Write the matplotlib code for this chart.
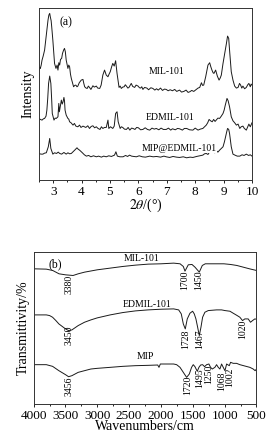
import numpy as np
import matplotlib
matplotlib.use("Agg")
import matplotlib.pyplot as plt
from matplotlib.ticker import MultipleLocator

plt.rcParams['font.family'] = 'Liberation Serif'
plt.rcParams['mathtext.fontset'] = 'stix'

# ---------------- (a) XRD data ----------------
mil_2t = [2.50, 2.53, 2.55, 2.58, 2.61, 2.65, 2.70, 2.74, 2.78, 2.82, 2.85, 2.88, 2.90, 2.93,
          2.95, 2.99, 3.05, 3.10, 3.14, 3.17, 3.20, 3.23, 3.26, 3.30, 3.33, 3.37, 3.40, 3.43,
          3.46, 3.52, 3.55, 3.58, 3.61, 3.64, 3.72, 3.76, 3.80, 3.84, 3.87, 3.92, 3.99, 4.05,
          4.08, 4.11, 4.16, 4.20, 4.24, 4.28, 4.33, 4.40, 4.45, 4.52, 4.57, 4.64, 4.69, 4.75,
          4.81, 4.87, 4.93, 4.97, 5.01, 5.06, 5.10, 5.15, 5.20, 5.25, 5.32, 5.36, 5.40, 5.45,
          5.50, 5.54, 5.58, 5.63, 5.67, 5.75, 5.80, 5.87, 5.92, 5.99, 6.04, 6.08, 6.12, 6.16,
          6.22, 6.30, 6.36, 6.44, 6.51, 6.58, 6.64, 6.70, 6.78, 6.85, 6.92, 6.98, 7.05, 7.12,
          7.20, 7.28, 7.35, 7.45, 7.52, 7.60, 7.68, 7.75, 7.81, 7.88, 7.95, 8.04, 8.10, 8.16,
          8.22, 8.26, 8.30, 8.37, 8.45, 8.51, 8.55, 8.59, 8.63, 8.66, 8.72, 8.78, 8.84, 8.88,
          8.92, 8.98, 9.04, 9.10, 9.14, 9.18, 9.21, 9.27, 9.33, 9.39, 9.45, 9.51, 9.56, 9.60,
          9.64, 9.68, 9.74, 9.80, 9.85, 9.89, 9.94, 9.97, 10.0]
mil_int = [330, 338, 335, 345, 360, 372, 390, 420, 450, 480, 495, 500, 490, 478,
           460, 420, 350, 335, 345, 330, 352, 345, 362, 365, 380, 390, 395, 385,
           360, 335, 345, 340, 318, 305, 280, 284, 285, 280, 282, 292, 300, 302,
           290, 280, 276, 275, 282, 278, 272, 283, 279, 282, 276, 275, 285, 315,
           330, 315, 310, 318, 325, 340, 350, 342, 358, 320, 278, 282, 275, 279,
           280, 286, 282, 276, 278, 290, 281, 278, 285, 282, 277, 276, 280, 272,
           278, 276, 271, 277, 275, 270, 274, 270, 276, 269, 273, 272, 268, 271,
           268, 272, 266, 270, 264, 266, 270, 263, 265, 269, 266, 272, 276, 278,
           292, 284, 285, 310, 345, 352, 340, 330, 322, 320, 330, 312, 300, 306,
           315, 350, 380, 410, 432, 425, 390, 325, 300, 282, 276, 278, 290, 285,
           276, 282, 274, 278, 286, 290, 280, 288, 285]

ed_2t = [2.50, 2.55, 2.61, 2.66, 2.70, 2.75, 2.78, 2.81, 2.84, 2.88, 2.92, 2.95, 2.97, 3.03,
         3.07, 3.11, 3.17, 3.20, 3.22, 3.25, 3.29, 3.32, 3.35, 3.38, 3.40, 3.42, 3.46, 3.49,
         3.52, 3.55, 3.58, 3.63, 3.70, 3.75, 3.80, 3.87, 3.93, 3.98, 4.05, 4.10, 4.15, 4.22,
         4.28, 4.34, 4.40, 4.46, 4.52, 4.58, 4.65, 4.70, 4.75, 4.81, 4.87, 4.93, 4.96, 5.02,
         5.10, 5.15, 5.20, 5.25, 5.29, 5.36, 5.40, 5.45, 5.51, 5.58, 5.64, 5.70, 5.76, 5.81,
         5.88, 5.94, 6.00, 6.08, 6.16, 6.24, 6.32, 6.40, 6.48, 6.56, 6.63, 6.72, 6.80, 6.88,
         6.98, 7.06, 7.14, 7.20, 7.30, 7.38, 7.45, 7.55, 7.62, 7.70, 7.80, 7.92, 8.00, 8.10,
         8.18, 8.27, 8.33, 8.39, 8.44, 8.49, 8.54, 8.60, 8.65, 8.70, 8.74, 8.80, 8.86, 8.92,
         8.98, 9.02, 9.06, 9.12, 9.16, 9.21, 9.27, 9.33, 9.39, 9.45, 9.51, 9.57, 9.62, 9.68,
         9.73, 9.80, 9.85, 9.89, 9.94, 10.0]
ed_int = [185, 182, 180, 184, 185, 192, 210, 245, 290, 312, 290, 240, 200, 180,
          186, 185, 190, 230, 205, 220, 240, 228, 235, 248, 238, 210, 195, 190,
          185, 183, 175, 172, 165, 170, 162, 160, 165, 158, 162, 160, 158, 163,
          155, 161, 163, 157, 160, 155, 152, 160, 155, 158, 158, 180, 155, 160,
          155, 162, 200, 205, 175, 155, 160, 158, 153, 152, 158, 150, 156, 155,
          152, 158, 157, 151, 152, 157, 152, 150, 156, 153, 155, 151, 156, 152,
          152, 156, 150, 154, 151, 155, 154, 150, 155, 155, 151, 150, 156, 150,
          153, 155, 160, 165, 172, 182, 178, 175, 182, 176, 180, 186, 185, 192,
          200, 210, 225, 245, 238, 220, 190, 178, 172, 165, 168, 155, 160, 162,
          155, 150, 160, 168, 160, 172]

mip_2t = [2.50, 2.57, 2.64, 2.70, 2.76, 2.83, 2.88, 2.92, 2.99, 3.05, 3.12, 3.18, 3.23, 3.30,
          3.38, 3.46, 3.52, 3.58, 3.64, 3.70, 3.76, 3.84, 3.88, 3.93, 4.03, 4.10, 4.17, 4.25,
          4.33, 4.42, 4.52, 4.60, 4.70, 4.78, 4.87, 4.96, 5.05, 5.16, 5.21, 5.26, 5.35, 5.46,
          5.55, 5.62, 5.69, 5.76, 5.84, 5.93, 6.03, 6.14, 6.25, 6.40, 6.52, 6.64, 6.78, 6.90,
          6.98, 7.10, 7.22, 7.34, 7.45, 7.58, 7.70, 7.82, 7.92, 8.05, 8.16, 8.27, 8.33, 8.39,
          8.45, 8.51, 8.58, 8.64, 8.69, 8.75, 8.80, 8.86, 8.92, 8.98, 9.03, 9.07, 9.11, 9.14,
          9.18, 9.21, 9.27, 9.33, 9.40, 9.48, 9.57, 9.65, 9.72, 9.80, 9.88, 9.94, 10.0]
mip_int = [80, 78, 78, 81, 82, 100, 125, 95, 78, 82, 80, 84, 80, 78,
           83, 78, 82, 79, 80, 85, 90, 97, 93, 90, 82, 76, 72, 74,
           70, 73, 70, 72, 69, 72, 70, 73, 71, 75, 85, 72, 70, 70,
           74, 71, 75, 72, 71, 70, 73, 70, 69, 72, 70, 71, 69, 72,
           70, 68, 71, 69, 68, 70, 67, 69, 68, 71, 73, 75, 79, 80,
           77, 85, 83, 86, 82, 88, 84, 90, 95, 100, 115, 130, 145, 155,
           152, 140, 100, 78, 75, 72, 72, 76, 74, 78, 74, 76, 72]

# ---------------- (b) FTIR data ----------------
mil_wn = [4000, 3800, 3700, 3600, 3500, 3380, 3300, 3200, 3000, 2800, 2600, 2400, 2200, 2000,
          1800, 1700, 1649, 1623, 1571, 1513, 1466, 1398, 1351, 1304, 1205, 1106, 1012, 907,
          808, 709, 610, 500]
mil_tr = [405, 404, 400, 390, 387, 385, 390, 395, 402, 407, 412, 416, 419, 420,
          422, 420, 412, 398, 417, 418, 410, 395, 415, 420, 420, 420, 420, 418,
          415, 410, 405, 400]

ed_wn = [4000, 3800, 3749, 3702, 3650, 3603, 3498, 3451, 3399, 3300, 3201, 3101, 3002, 2798,
         2600, 2401, 2203, 1999, 1801, 1722, 1681, 1649, 1618, 1587, 1545, 1503, 1477, 1451,
         1424, 1398, 1372, 1346, 1310, 1257, 1127, 1048, 995, 917, 865, 803, 761, 719,
         683, 630, 594, 562, 526, 500]
ed_tr = [267, 267, 265, 260, 250, 240, 225, 220, 222, 235, 245, 252, 258, 267,
         274, 279, 282, 284, 285, 282, 270, 240, 225, 255, 272, 278, 270, 255,
         230, 205, 230, 260, 275, 280, 282, 282, 280, 278, 272, 265, 260, 250,
         255, 255, 245, 250, 255, 254]

mip_wn = [4000, 3800, 3702, 3603, 3498, 3451, 3399, 3300, 3201, 3101, 3002, 2798, 2600, 2401,
          2203, 2051, 2031, 2010, 1900, 1801, 1754, 1701, 1649, 1597, 1555, 1519, 1493, 1466,
          1430, 1404, 1377, 1346, 1315, 1283, 1247, 1221, 1194, 1153, 1127, 1100, 1074, 1048,
          1022, 995, 969, 927, 907, 865, 813, 761, 683, 604, 552, 521, 500]
mip_tr = [118, 118, 113, 100, 88, 82, 85, 95, 100, 105, 107, 110, 113, 115,
          116, 117, 110, 120, 120, 120, 118, 110, 95, 80, 90, 110, 118, 112,
          98, 110, 117, 118, 112, 118, 120, 110, 105, 110, 118, 110, 105, 120,
          110, 100, 120, 115, 125, 122, 122, 118, 114, 110, 105, 100, 105]

# peak labels: (text, wavenumber, y)
peak_labels = [("3380", 3441, 358), ("1700", 1633, 372), ("1450", 1404, 372),
               ("3450", 3441, 205), ("1728", 1618, 193), ("1467", 1388, 193), ("1020", 709, 225),
               ("3456", 3441, 53), ("1720", 1587, 55), ("1495", 1398, 78), ("1250", 1257, 90),
               ("1068", 1048, 67), ("1002", 928, 80)]

fig = plt.figure(figsize=(2.8, 4.47), dpi=100)
lc = '#1a1a1a'

# ---- panel (a)
ax1 = fig.add_axes([0.139, 0.597, 0.761, 0.385])
ax1.plot(mil_2t, mil_int, color=lc, lw=0.7)
ax1.plot(ed_2t, ed_int, color=lc, lw=0.7)
ax1.plot(mip_2t, mip_int, color=lc, lw=0.7)
ax1.set_xlim(2.5, 10)
ax1.set_ylim(0, 516)
ax1.xaxis.set_major_locator(MultipleLocator(1))
ax1.xaxis.set_minor_locator(MultipleLocator(0.5))
ax1.set_yticks([])
ax1.tick_params(axis='x', labelsize=9.5, length=2.5, width=0.6, pad=1.5)
ax1.tick_params(axis='x', which='minor', length=1.5, width=0.6)
ax1.set_xlabel(r'$2\theta$/(°)', fontsize=10, labelpad=-1)
ax1.set_ylabel('Intensity', fontsize=10, labelpad=3)
ax1.text(3.46, 472, '(a)', fontsize=8.5, ha='center', va='center')
ax1.text(6.98, 325, 'MIL-101', fontsize=7, ha='center', va='center')
ax1.text(7.10, 188, 'EDMIL-101', fontsize=7, ha='center', va='center')
ax1.text(7.45, 95, 'MIP@EDMIL-101', fontsize=7, ha='center', va='center',
         bbox=dict(facecolor='white', edgecolor='none', pad=0.2))

# ---- panel (b)
ax2 = fig.add_axes([0.12, 0.096, 0.796, 0.340])
ax2.plot(mil_wn, mil_tr, color=lc, lw=0.7)
ax2.plot(ed_wn, ed_tr, color=lc, lw=0.7)
ax2.plot(mip_wn, mip_tr, color=lc, lw=0.7)
ax2.set_xlim(4000, 500)
ax2.set_ylim(0, 455)
ax2.xaxis.set_major_locator(MultipleLocator(500))
ax2.xaxis.set_minor_locator(MultipleLocator(250))
ax2.set_yticks([])
ax2.tick_params(axis='x', labelsize=9.5, length=2.5, width=0.6, pad=1.5)
ax2.tick_params(axis='x', which='minor', length=1.5, width=0.6)
ax2.set_xlabel('Wavenumbers/cm', fontsize=10, labelpad=-1)
ax2.set_ylabel('Transmittivity/%', fontsize=10, labelpad=3)
ax2.text(3660, 420, '(b)', fontsize=8.5, ha='center', va='center')
ax2.text(2300, 435, 'MIL-101', fontsize=7, ha='center', va='center')
ax2.text(2224, 297, 'EDMIL-101', fontsize=7, ha='center', va='center')
ax2.text(2239, 143, 'MIP', fontsize=7, ha='center', va='center')
for txt, wn, yy in peak_labels:
    ax2.text(wn, yy, txt, fontsize=7, rotation=90, ha='center', va='center')

for ax in (ax1, ax2):
    for sp in ax.spines.values():
        sp.set_linewidth(0.7)
        sp.set_color('#333333')

fig.savefig('out.png', dpi=100)
